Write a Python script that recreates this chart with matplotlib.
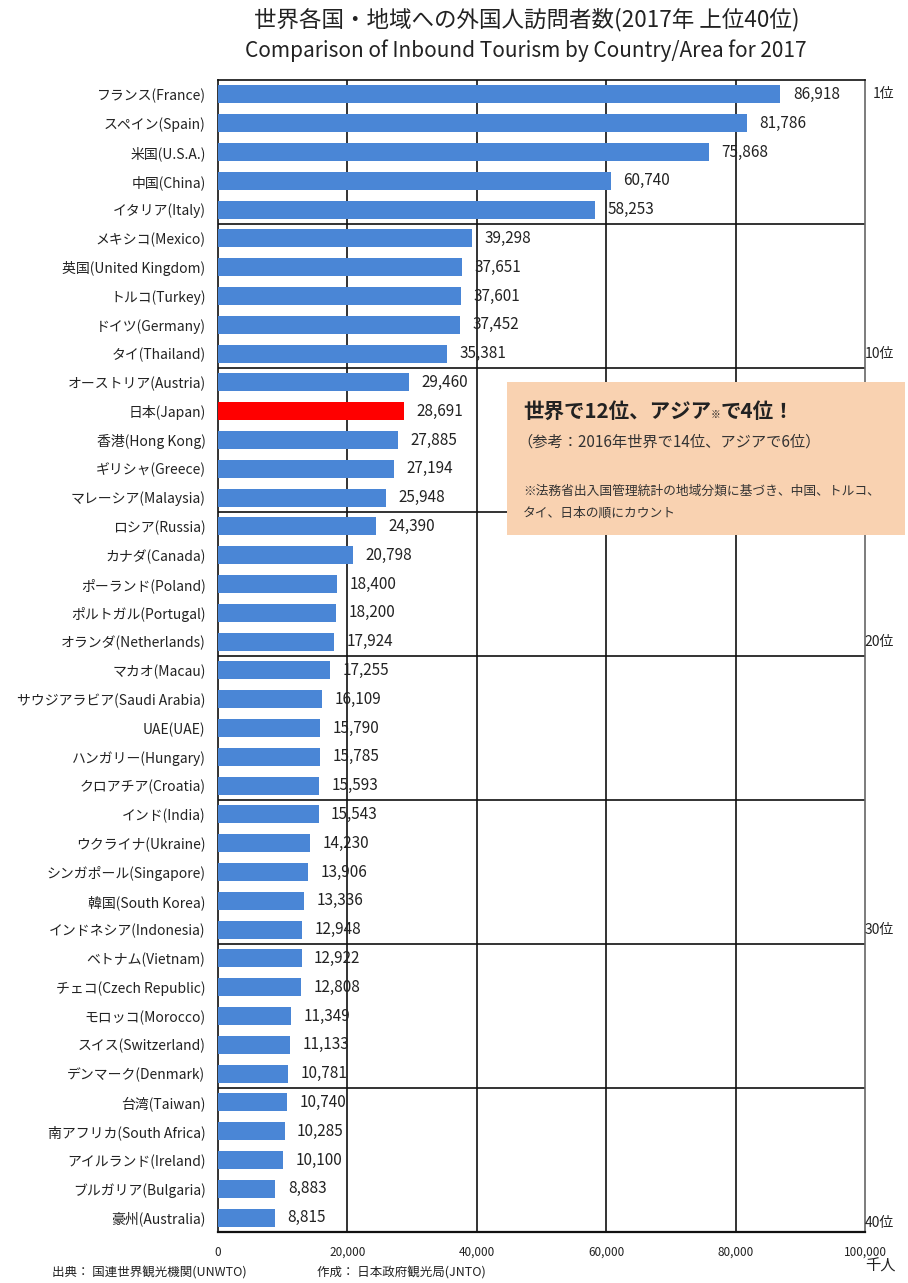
import matplotlib
matplotlib.use("Agg")
import matplotlib.pyplot as plt
from matplotlib.patches import Rectangle
from matplotlib.transforms import blended_transform_factory

plt.rcParams['font.family'] = ['Noto Sans CJK JP', 'DejaVu Sans']

# Inbound visitors 2017 (thousand people), top 40
countries = [
    "フランス(France)", "スペイン(Spain)", "米国(U.S.A.)", "中国(China)", "イタリア(Italy)",
    "メキシコ(Mexico)", "英国(United Kingdom)", "トルコ(Turkey)", "ドイツ(Germany)", "タイ(Thailand)",
    "オーストリア(Austria)", "日本(Japan)", "香港(Hong Kong)", "ギリシャ(Greece)", "マレーシア(Malaysia)",
    "ロシア(Russia)", "カナダ(Canada)", "ポーランド(Poland)", "ポルトガル(Portugal)", "オランダ(Netherlands)",
    "マカオ(Macau)", "サウジアラビア(Saudi Arabia)", "UAE(UAE)", "ハンガリー(Hungary)", "クロアチア(Croatia)",
    "インド(India)", "ウクライナ(Ukraine)", "シンガポール(Singapore)", "韓国(South Korea)", "インドネシア(Indonesia)",
    "ベトナム(Vietnam)", "チェコ(Czech Republic)", "モロッコ(Morocco)", "スイス(Switzerland)", "デンマーク(Denmark)",
    "台湾(Taiwan)", "南アフリカ(South Africa)", "アイルランド(Ireland)", "ブルガリア(Bulgaria)", "豪州(Australia)",
]
visitors = [
    86918, 81786, 75868, 60740, 58253,
    39298, 37651, 37601, 37452, 35381,
    29460, 28691, 27885, 27194, 25948,
    24390, 20798, 18400, 18200, 17924,
    17255, 16109, 15790, 15785, 15593,
    15543, 14230, 13906, 13336, 12948,
    12922, 12808, 11349, 11133, 10781,
    10740, 10285, 10100, 8883, 8815,
]
highlight = "日本(Japan)"
rank_marks = {0: "1位", 9: "10位", 19: "20位", 29: "30位", 39: "40位"}
x_ticks = [0, 20000, 40000, 60000, 80000, 100000]

W, H = 908, 1283
fig = plt.figure(figsize=(W / 100, H / 100), dpi=100)
fig.patch.set_facecolor("white")

ax_l, ax_r, ax_t, ax_b = 218, 865, 80, 1232
ax = fig.add_axes([ax_l / W, 1 - ax_b / H, (ax_r - ax_l) / W, (ax_b - ax_t) / H])

text_col = "#222222"
bar_col = "#4A86D6"
colors = ["#FF0000" if c == highlight else bar_col for c in countries]
ypos = list(range(len(countries)))

ax.barh(ypos, visitors, height=0.62, color=colors, zorder=3)
ax.set_xlim(0, 100000)
ax.set_ylim(len(countries) - 0.5, -0.5)

# vertical grid every 20,000 and a separator after every 5 ranks
for xv in x_ticks[1:-1]:
    ax.axvline(xv, color="#111111", lw=1.2, zorder=1)
for k in range(5, len(countries), 5):
    ax.axhline(k - 0.5, color="#111111", lw=1.2, zorder=1)

for s in ax.spines.values():
    s.set_color("#111111")
    s.set_linewidth(1.2)
ax.spines["right"].set_color("#666666")
ax.spines["bottom"].set_linewidth(1.6)

ax.set_yticks(ypos)
ax.set_yticklabels(countries, fontsize=10, color=text_col)
ax.set_xticks(x_ticks)
ax.set_xticklabels([f"{v:,}" for v in x_ticks], fontsize=8.5, color=text_col)
ax.tick_params(axis="y", length=0, pad=9)
ax.tick_params(axis="x", length=0, pad=10)

for y, v in zip(ypos, visitors):
    ax.annotate(f"{v:,}", xy=(v, y), xytext=(9, 0), textcoords="offset points",
                va="center", ha="left", fontsize=11, color=text_col, zorder=4)

trans = blended_transform_factory(fig.transFigure, ax.transData)
for r, lab in rank_marks.items():
    off = 0.2 if r == len(countries) - 1 else 0.0
    ax.text(894 / W, r + off, lab, transform=trans, ha="right", va="center",
            fontsize=10, color=text_col, clip_on=False)

# titles
fig.text(527 / W, 1 - 20 / H, "世界各国・地域への外国人訪問者数(2017年 上位40位)",
         ha="center", va="center", fontsize=16.2, color=text_col)
fig.text(526 / W, 1 - 51 / H, "Comparison of Inbound Tourism by Country/Area for 2017",
         ha="center", va="center", fontsize=15, color=text_col)

# callout box
box = Rectangle((507 / W, 1 - 535 / H), (905 - 507) / W, (535 - 382) / H,
                transform=fig.transFigure, facecolor="#F9D2B1", edgecolor="none", zorder=10)
fig.add_artist(box)

renderer = fig.canvas.get_renderer()
x_px = 523
pieces = [("世界で12位、アジア", 14.8, "bold"), ("※", 7, "normal"), ("で4位！", 14.8, "bold")]
for txt, fs, fw in pieces:
    t = fig.text(x_px / W, 1 - 418 / H, txt, ha="left", va="baseline", fontsize=fs,
                 fontweight=fw, color="#222222", zorder=11)
    bb = t.get_window_extent(renderer=renderer)
    x_px += bb.width

fig.text(517 / W, 1 - 442 / H, "（参考：2016年世界で14位、アジアで6位）",
         ha="left", va="center", fontsize=11, color="#333333", zorder=11)
fig.text(523 / W, 1 - 491 / H, "※法務省出入国管理統計の地域分類に基づき、中国、トルコ、",
         ha="left", va="center", fontsize=9.2, color="#333333", zorder=11)
fig.text(523 / W, 1 - 513 / H, "タイ、日本の順にカウント",
         ha="left", va="center", fontsize=9.2, color="#333333", zorder=11)

# unit and source
fig.text(880 / W, 1 - 1266 / H, "千人", ha="center", va="center", fontsize=11, color=text_col)
fig.text(52 / W, 1 - 1273 / H, "出典： 国連世界観光機関(UNWTO)", ha="left", va="center",
         fontsize=9, color=text_col)
fig.text(317 / W, 1 - 1273 / H, "作成： 日本政府観光局(JNTO)", ha="left", va="center",
         fontsize=9, color=text_col)

fig.savefig("out.png", dpi=100, facecolor="white")
